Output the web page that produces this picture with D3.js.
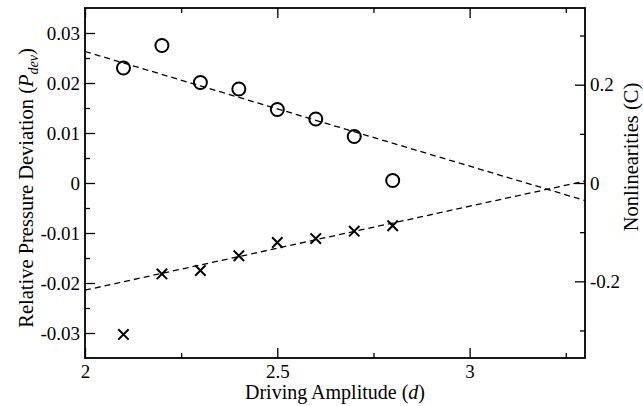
<!DOCTYPE html>
<html>
<head>
<meta charset="utf-8">
<script src="https://cdn.jsdelivr.net/npm/d3@7"></script>
<style>
  body { margin: 0; background: #fff; }
  svg text { font-family: "Liberation Serif", "Times New Roman", serif; fill: #000; }
</style>
</head>
<body>
<div id="chart"></div>
<script>
// Data
const amplitude = [2.1, 2.2, 2.3, 2.4, 2.5, 2.6, 2.7, 2.8];
const pressureDev = [0.0230, 0.0275, 0.0201, 0.0188, 0.0147, 0.0128, 0.0093, 0.0005];
const nonlinearity = [-0.308, -0.185, -0.178, -0.148, -0.121, -0.113, -0.098, -0.087];

// dashed fit lines, given at the two ends of the x range
const fitX = [2, 3.3];
const pressureFit = [0.0263, -0.0035];
const nonlinearFit = [-0.218, 0.004];

// ticks
const xMajor = [2, 2.5, 3];
const xMinor = [2.25, 2.75, 3.25];
const leftMajor = [-0.03, -0.02, -0.01, 0, 0.01, 0.02, 0.03];
const leftMinor = [-0.025, -0.015, -0.005, 0.005, 0.015, 0.025];
const rightMajor = [-0.2, 0, 0.2];
const rightMinor = [-0.3, -0.1, 0.1, 0.3];

const W = 643, H = 406;
const margin = { top: 8, right: 58, bottom: 48, left: 85 };
const width = W - margin.left - margin.right;
const height = H - margin.top - margin.bottom;

const svg = d3.select('#chart')
    .append('svg')
    .attr('width', W)
    .attr('height', H);

const g = svg.append('g')
    .attr('transform', `translate(${margin.left}, ${margin.top})`);

// Scales
const x = d3.scaleLinear().domain([2, 3.3]).range([0, width]);
const yLeft = d3.scaleLinear().domain([-0.035, 0.035]).range([height, 0]);
const yRight = d3.scaleLinear().domain([-0.356, 0.356]).range([height, 0]);

const fmt = d => d === 0 ? '0' : String(d);
const fmtLeft = d => d === 0 ? '0' : d.toFixed(2);

// helper to style axis groups
const styleAxis = sel => {
    sel.attr('font-family', null);
    sel.select('.domain').remove();
    sel.selectAll('.tick line').attr('stroke', '#000').attr('stroke-width', 1.3);
    sel.selectAll('.tick text').style('font-size', '19px').attr('fill', '#000');
};

// Bottom axis (major + minor), ticks pointing inward
g.append('g')
    .attr('transform', `translate(0, ${height})`)
    .call(d3.axisBottom(x).tickValues(xMajor).tickSizeInner(-10).tickSizeOuter(0).tickPadding(7).tickFormat(fmt))
    .call(styleAxis);
g.append('g')
    .attr('transform', `translate(0, ${height})`)
    .call(d3.axisBottom(x).tickValues(xMinor).tickSizeInner(-5).tickSizeOuter(0).tickFormat(''))
    .call(styleAxis);

// Top axis mirrors the bottom one, no labels
g.append('g')
    .call(d3.axisTop(x).tickValues(xMajor).tickSizeInner(-10).tickSizeOuter(0).tickFormat(''))
    .call(styleAxis);
g.append('g')
    .call(d3.axisTop(x).tickValues(xMinor).tickSizeInner(-5).tickSizeOuter(0).tickFormat(''))
    .call(styleAxis);

// Left axis
g.append('g')
    .call(d3.axisLeft(yLeft).tickValues(leftMajor).tickSizeInner(-10).tickSizeOuter(0).tickPadding(5).tickFormat(fmtLeft))
    .call(styleAxis);
g.append('g')
    .call(d3.axisLeft(yLeft).tickValues(leftMinor).tickSizeInner(-5).tickSizeOuter(0).tickFormat(''))
    .call(styleAxis);

// Right axis
g.append('g')
    .attr('transform', `translate(${width}, 0)`)
    .call(d3.axisRight(yRight).tickValues(rightMajor).tickSizeInner(-10).tickSizeOuter(0).tickPadding(5).tickFormat(fmt))
    .call(styleAxis);
g.append('g')
    .attr('transform', `translate(${width}, 0)`)
    .call(d3.axisRight(yRight).tickValues(rightMinor).tickSizeInner(-5).tickSizeOuter(0).tickFormat(''))
    .call(styleAxis);

// Frame
g.append('rect')
    .attr('width', width)
    .attr('height', height)
    .attr('fill', 'none')
    .attr('stroke', '#000')
    .attr('stroke-width', 1.8);

// Dashed fit lines
const fitLine = yScale => d3.line()
    .x(d => x(d[0]))
    .y(d => yScale(d[1]));

g.append('path')
    .datum(fitX.map((v, i) => [v, pressureFit[i]]))
    .attr('d', fitLine(yLeft))
    .attr('fill', 'none')
    .attr('stroke', '#000')
    .attr('stroke-width', 1.3)
    .attr('stroke-dasharray', '6,4');

g.append('path')
    .datum(fitX.map((v, i) => [v, nonlinearFit[i]]))
    .attr('d', fitLine(yRight))
    .attr('fill', 'none')
    .attr('stroke', '#000')
    .attr('stroke-width', 1.3)
    .attr('stroke-dasharray', '6,4');

// Circles: relative pressure deviation
g.selectAll('.pdev')
    .data(amplitude.map((v, i) => [v, pressureDev[i]]))
    .join('circle')
    .attr('class', 'pdev')
    .attr('cx', d => x(d[0]))
    .attr('cy', d => yLeft(d[1]))
    .attr('r', 6.5)
    .attr('fill', 'none')
    .attr('stroke', '#000')
    .attr('stroke-width', 2);

// Crosses: nonlinearities
const s = 5.2;
g.selectAll('.nl')
    .data(amplitude.map((v, i) => [v, nonlinearity[i]]))
    .join('path')
    .attr('class', 'nl')
    .attr('transform', d => `translate(${x(d[0])}, ${yRight(d[1])})`)
    .attr('d', `M${-s},${-s}L${s},${s}M${-s},${s}L${s},${-s}`)
    .attr('fill', 'none')
    .attr('stroke', '#000')
    .attr('stroke-width', 2);

// Axis titles
svg.append('text')
    .attr('x', margin.left + width / 2)
    .attr('y', 399)
    .attr('text-anchor', 'middle')
    .style('font-size', '20px')
    .call(t => {
        t.append('tspan').text('Driving Amplitude (');
        t.append('tspan').style('font-style', 'italic').text('d');
        t.append('tspan').text(')');
    });

svg.append('text')
    .attr('transform', 'translate(33, 188) rotate(-90)')
    .attr('text-anchor', 'middle')
    .style('font-size', '20.5px')
    .call(t => {
        t.append('tspan').text('Relative Pressure Deviation (');
        t.append('tspan').style('font-style', 'italic').text('P');
        t.append('tspan').style('font-style', 'italic').style('font-size', '14px')
            .attr('dy', 5).text('dev');
        t.append('tspan').attr('dy', -5).text(')');
    });

svg.append('text')
    .attr('transform', 'translate(638, 157) rotate(-90)')
    .attr('text-anchor', 'middle')
    .style('font-size', '20.5px')
    .text('Nonlinearities (C)');
</script>
</body>
</html>
